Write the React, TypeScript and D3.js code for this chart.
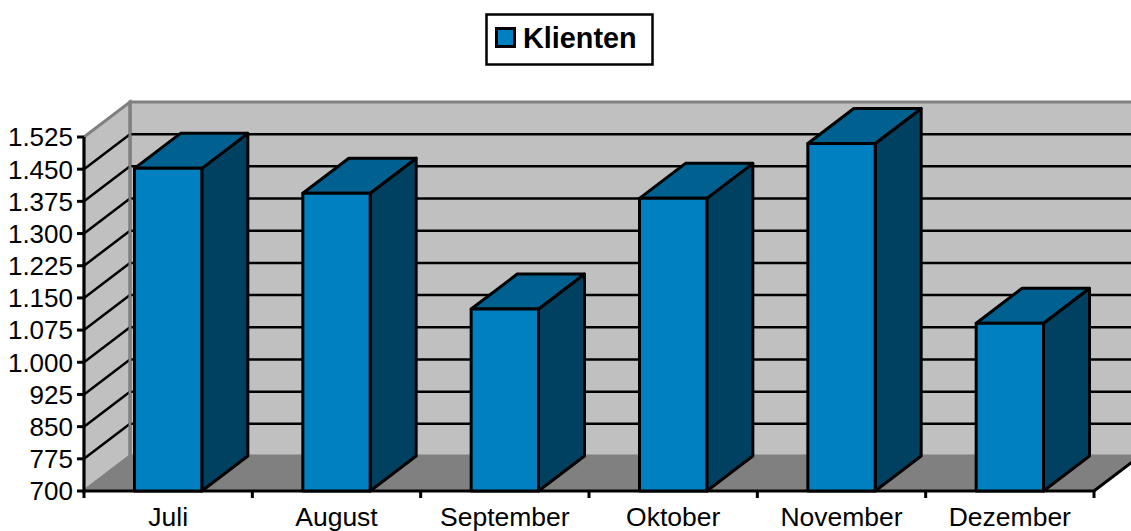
import React, { useEffect, useRef } from 'react';
import * as d3 from 'd3';

const months = ['Juli', 'August', 'September', 'Oktober', 'November', 'Dezember'];
const klienten = [1452, 1394, 1124, 1382, 1510, 1091];
const yTicks = [700, 775, 850, 925, 1000, 1075, 1150, 1225, 1300, 1375, 1450, 1525];

const width = 1131;
const height = 531;
const depthX = 46;
const depthY = -35;

const App = () => {
  const svgRef = useRef<SVGSVGElement>(null);

  useEffect(() => {
    const svg = d3.select(svgRef.current);
    svg.selectAll('*').remove();

    const x = d3.scaleBand<string>().domain(months).range([84, 1094]).paddingInner(0.6).paddingOuter(0.3);
    const y = d3.scaleLinear().domain([700, 1525]).range([491, 137]);
    const fmt = d3.formatLocale({ thousands: '.', decimal: ',', grouping: [3], currency: ['', ''] }).format(',d');

    const x0 = x.range()[0];
    const x1 = x.range()[1];
    const yBottom = y(700);
    const yTop = y(1525);
    const poly = (pts: number[][]) => 'M' + pts.map(p => p.join(',')).join('L') + 'Z';

    // walls and floor
    svg.append('path')
      .attr('d', poly([[x0 + depthX, yTop + depthY], [x1 + depthX, yTop + depthY], [x1 + depthX, yBottom + depthY], [x0 + depthX, yBottom + depthY]]))
      .attr('fill', '#c0c0c0').attr('stroke', '#808080').attr('stroke-width', 3);
    svg.append('path')
      .attr('d', poly([[x0, yTop], [x0 + depthX, yTop + depthY], [x0 + depthX, yBottom + depthY], [x0, yBottom]]))
      .attr('fill', '#c0c0c0').attr('stroke', '#808080').attr('stroke-width', 3);
    svg.append('path')
      .attr('d', poly([[x0, yBottom], [x0 + depthX, yBottom + depthY], [x1 + depthX, yBottom + depthY], [x1, yBottom]]))
      .attr('fill', '#808080').attr('stroke', '#808080').attr('stroke-width', 1);

    // gridlines on both walls, the top edge stays grey
    const grid = svg.append('g').attr('fill', 'none').attr('stroke', '#000').attr('stroke-width', 2.5);
    yTicks.slice(1, -1).forEach(t => {
      grid.append('path').attr('d', d3.line()([[x0, y(t)], [x0 + depthX, y(t) + depthY], [x1 + depthX, y(t) + depthY]]));
    });
    // wall corner sits on top of the gridlines
    svg.append('line')
      .attr('x1', x0 + depthX).attr('x2', x0 + depthX)
      .attr('y1', yTop + depthY).attr('y2', yBottom + depthY)
      .attr('stroke', '#808080').attr('stroke-width', 3);

    // axes
    const axis = svg.append('g').attr('stroke', '#000').attr('stroke-width', 3).attr('fill', 'none');
    axis.append('path').attr('d', d3.line()([[x0, yTop], [x0, yBottom], [x1, yBottom], [x1 + depthX, yBottom + depthY]]));
    axis.selectAll('line.ytick').data(yTicks).join('line').attr('class', 'ytick')
      .attr('x1', x0 - 7).attr('x2', x0).attr('y1', d => y(d)).attr('y2', d => y(d));
    const xTickPos = [...months.map(m => x(m)! - x.step() * 0.3), x1];
    axis.selectAll('line.xtick').data(xTickPos).join('line').attr('class', 'xtick')
      .attr('x1', d => d).attr('x2', d => d).attr('y1', yBottom).attr('y2', yBottom + 7);

    // bars
    const bars = svg.append('g').attr('stroke', '#000').attr('stroke-width', 3).attr('stroke-linejoin', 'round');
    months.forEach((m, i) => {
      const l = x(m)!;
      const r = l + x.bandwidth();
      const t = y(klienten[i]);
      bars.append('path').attr('fill', '#004060')
        .attr('d', poly([[r, t], [r + depthX, t + depthY], [r + depthX, yBottom + depthY], [r, yBottom]]));
      bars.append('path').attr('fill', '#006090')
        .attr('d', poly([[l, t], [l + depthX, t + depthY], [r + depthX, t + depthY], [r, t]]));
      bars.append('path').attr('fill', '#0080c0')
        .attr('d', poly([[l, t], [r, t], [r, yBottom], [l, yBottom]]));
    });

    // labels
    const font = '"Liberation Sans", Arial, sans-serif';
    svg.append('g').selectAll('text').data(yTicks).join('text')
      .attr('x', 73).attr('y', d => y(d)).attr('dy', '0.36em').attr('text-anchor', 'end')
      .attr('font-family', font).attr('font-size', 26).attr('fill', '#000')
      .text(d => fmt(d));
    svg.append('g').selectAll('text').data(months).join('text')
      .attr('x', d => x(d)! + x.bandwidth() / 2).attr('y', 526).attr('text-anchor', 'middle')
      .attr('font-family', font).attr('font-size', 26.5).attr('fill', '#000')
      .text(d => d);

    // legend
    const legend = svg.append('g');
    legend.append('rect').attr('x', 486.5).attr('y', 14.5).attr('width', 166).attr('height', 50)
      .attr('fill', '#fff').attr('stroke', '#000').attr('stroke-width', 2.5);
    legend.append('rect').attr('x', 496.5).attr('y', 28.5).attr('width', 18).attr('height', 18)
      .attr('fill', '#0080c0').attr('stroke', '#000').attr('stroke-width', 3);
    legend.append('text').attr('x', 523).attr('y', 48)
      .attr('font-family', font).attr('font-size', 28.8).attr('font-weight', 700).attr('fill', '#000')
      .text('Klienten');
  }, []);

  return <svg ref={svgRef} width={width} height={height} style={{ position: 'absolute', left: 0, top: 0, background: '#fff' }} />;
};

export default App;
